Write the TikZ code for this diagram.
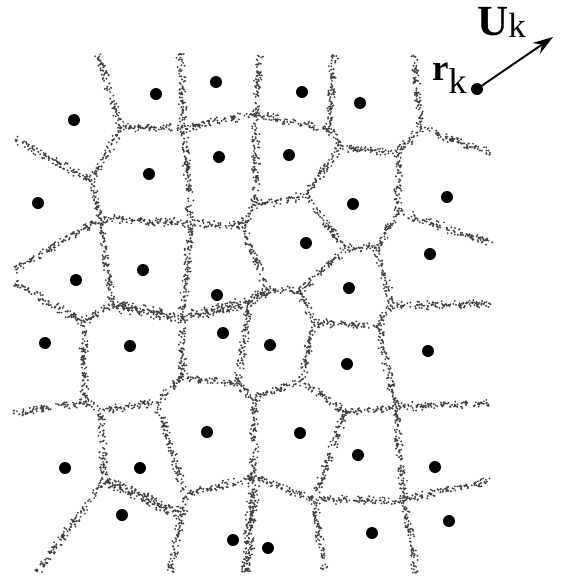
\documentclass[tikz,border=0pt]{standalone}
\usepackage{fontspec}
\setmainfont{Liberation Serif}
\usetikzlibrary{arrows.meta}
\newcount\stipi
\newcount\stipn
% stippled wall between two named points: #1,#2 names, #3 spacing, #4 half-spread
\newcommand\stipwall[4]{%
  \path (#1); \pgfgetlastxy{\stax}{\stay}%
  \path (#2); \pgfgetlastxy{\stbx}{\stby}%
  \pgfmathsetmacro\stdx{\stbx-\stax}%
  \pgfmathsetmacro\stdy{\stby-\stay}%
  \pgfmathsetmacro\stlen{veclen(\stdx,\stdy)}%
  \pgfmathtruncatemacro\stnn{\stlen/#3}%
  \pgfmathsetmacro\stux{\stdx/\stlen}%
  \pgfmathsetmacro\stuy{\stdy/\stlen}%
  \stipn=\stnn\relax
  \stipi=0\relax
  \loop
    \pgfmathsetmacro\stt{rnd*\stlen}%
    \pgfmathsetmacro\sto{#4*(rand+rand)}%
    \pgfmathsetmacro\stpx{\stax+\stt*\stux-\sto*\stuy}%
    \pgfmathsetmacro\stpy{\stay+\stt*\stuy+\sto*\stux}%
    \pgfpathmoveto{\pgfqpoint{\stpx pt}{\stpy pt}}%
    \pgfpathlineto{\pgfqpoint{\stpx pt+0.05pt}{\stpy pt}}%
    \advance\stipi by 1\relax
  \ifnum\stipi<\stipn\repeat
  \pgfusepath{stroke}%
}
\begin{document}
\begin{tikzpicture}[x=1pt,y=-1pt]
\pgfmathsetseed{7}
\definecolor{stipc}{HTML}{404040}
\tikzset{
  dot/.style={circle, fill=black, inner sep=0pt, minimum size=12pt},
  wallstyle/.style={draw=stipc, line width=2.1pt, line cap=round}
}
\useasboundingbox (0,0) rectangle (564,582);
% vertices
\coordinate (T1) at (98,55);  \coordinate (T2) at (180,53); \coordinate (T3) at (260,55);
\coordinate (T4) at (334,55); \coordinate (T5) at (414,55);
\coordinate (J1) at (121,128); \coordinate (J2) at (184,128); \coordinate (J4) at (256,114);
\coordinate (J5) at (330,130); \coordinate (J5b) at (340,147); \coordinate (J7) at (398,153);
\coordinate (J6) at (421,128); \coordinate (R1) at (491,153);
\coordinate (J0) at (91,180); \coordinate (L1) at (15,140);
\coordinate (J3a) at (100,219); \coordinate (L2) at (15,270); \coordinate (J3) at (191,223);
\coordinate (J11) at (242,226); \coordinate (J9) at (255,205); \coordinate (J8) at (305,196);
\coordinate (J10) at (345,249); \coordinate (J32) at (377,247); \coordinate (J31) at (398,212);
\coordinate (R2) at (492,243);
\coordinate (J12) at (268,290); \coordinate (J13) at (300,291); \coordinate (J14) at (314,323);
\coordinate (J34) at (378,325); \coordinate (J33) at (392,306); \coordinate (R3) at (491,303);
\coordinate (J16) at (112,305); \coordinate (J15) at (83,322); \coordinate (L3) at (15,283);
\coordinate (J17) at (182,318); \coordinate (J30) at (250,302);
\coordinate (J25) at (182,377); \coordinate (J23) at (238,384); \coordinate (J24) at (254,399);
\coordinate (J26) at (302,380); \coordinate (J27) at (345,413); \coordinate (J35) at (396,407);
\coordinate (R4) at (491,403);
\coordinate (J18) at (85,402); \coordinate (L4) at (13,413); \coordinate (J19) at (100,410);
\coordinate (J20) at (157,403);
\coordinate (J21) at (105,480); \coordinate (B1) at (37,572); \coordinate (J37) at (185,495);
\coordinate (J22) at (182,515); \coordinate (B2) at (170,572);
\coordinate (J28) at (254,477); \coordinate (B3) at (247,572); \coordinate (J29) at (314,500);
\coordinate (B4) at (324,570); \coordinate (J36) at (404,500); \coordinate (B5) at (416,573);
\coordinate (R5) at (491,480);
% cell walls
\begin{scope}[wallstyle]
\foreach \a/\b in {T1/J1,J1/J2,J1/J0,L1/J0,J0/J3a,J3a/J3,J3a/L2,J3a/J16,
  T2/J2,J2/J4,J2/J3,T3/J4,J4/J5,T4/J5,J5/J5b,J5b/J7,J7/J6,T5/J6,J6/R1,
  J4/J9,J9/J8,J8/J5b,J9/J11,J11/J3,J11/J12,J8/J10,J10/J32,J32/J31,J31/J7,J31/R2,
  J10/J13,J12/J13,J13/J14,J14/J34,J34/J33,J33/J32,J33/R3,
  J3/J17,J16/J15,J15/L3,J15/J18,J18/L4,J18/J19,
  J17/J25,J25/J20,J25/J23,J30/J23,J23/J24,J24/J26,J26/J14,J26/J27,J27/J35,J35/J34,J35/R4,
  J19/J20,J19/J21,J21/B1,J20/J37,J37/J22,J22/B2,J37/J28,J24/J28,J28/J29,J27/J29,J29/B4,
  J29/J36,J35/J36,J36/B5,J36/R5}
  {\stipwall{\a}{\b}{0.9}{2.4}}
\foreach \a/\b in {J12/J30,J30/J17,J16/J17,J21/J22,J28/B3}
  {\stipwall{\a}{\b}{0.5}{3.4}}
\end{scope}
% cell centres
\foreach \n/\p in {d1/{(74,120)},d2/{(156,94)},d3/{(216,82)},d4/{(302,92)},d5/{(360,103)},
  d6/{(38,203)},d7/{(149,174)},d8/{(219,157)},d9/{(289,155)},d10/{(353,204)},d11/{(447,197)},
  d12/{(76,280)},d13/{(143,270)},d14/{(217,295)},d15/{(306,243)},d16/{(349,288)},d17/{(430,254)},
  d18/{(45,343)},d19/{(130,346)},d20/{(223,333)},d21/{(270,345)},d22/{(347,364)},d23/{(428,351)},
  d24/{(65,468)},d25/{(140,468)},d26/{(207,432)},d27/{(300,433)},d28/{(358,455)},d29/{(435,467)},
  d30/{(122,515)},d31/{(233,540)},d32/{(268,548)},d33/{(372,533)},d34/{(449,521)}}
  {\node[dot] (\n) at \p {};}
% r_k with velocity U_k
\node[dot] (rk) at (477,89) {};
\coordinate (utip) at (553,37);
\draw[line width=1.9pt, -{Stealth[length=20pt,width=13pt]}] (rk.center) -- (utip);
\node[anchor=base west, inner sep=0pt] (rlab) at (432,80)
  {\fontsize{37}{37}\selectfont\textbf{r}\raisebox{-13pt}{\fontsize{36}{36}\selectfont k}};
\node[anchor=base west, inner sep=0pt] (ulab) at (477,35)
  {\fontsize{43}{43}\selectfont\textbf{U}\raisebox{-2pt}{\fontsize{35}{35}\selectfont k}};
\end{tikzpicture}
\end{document}
